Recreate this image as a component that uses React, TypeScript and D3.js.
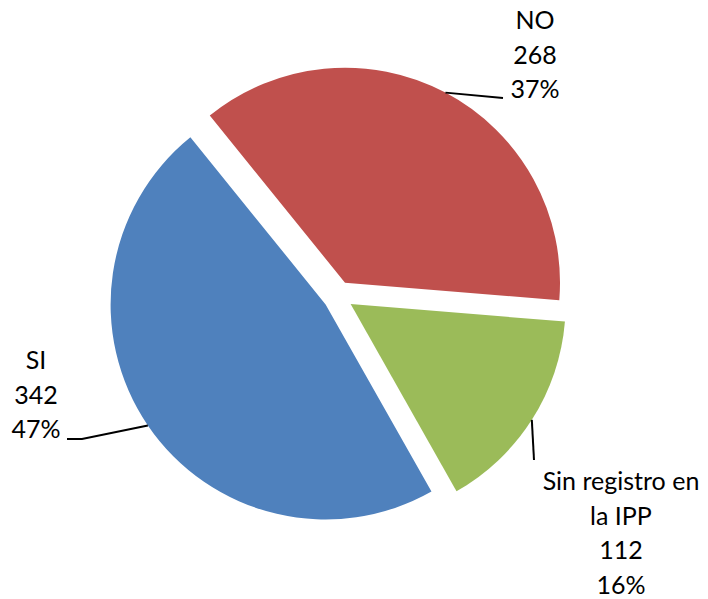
import React, { useEffect, useRef } from 'react';
import * as d3 from 'd3';

const categories = ['SI', 'NO', 'Sin registro en la IPP'];
const labelLines = [['SI'], ['NO'], ['Sin registro en', 'la IPP']];
const values = [342, 268, 112];
const colors = ['#4F81BD', '#C0504D', '#9BBB59'];

// label placement (text center x, first baseline y, leader line tail)
const labelPos = [
  { x: 36, y: 369, tail: [[82, 439], [67, 439]] },
  { x: 535, y: 29, tail: [[503, 98]] },
  { x: 621, y: 490, tail: [[534, 460]] },
];

const App = () => {
  const ref = useRef<SVGSVGElement>(null);

  useEffect(() => {
    const width = 708;
    const height = 599;
    const cx = 338;
    const cy = 296;
    const radius = 215;
    const explode = 15;
    const lineH = 34.5;

    const svg = d3.select(ref.current);
    svg.selectAll('*').remove();
    svg.attr('width', width).attr('height', height);

    const total = d3.sum(values);
    const data = categories.map((c, i) => ({ name: c, value: values[i], i }));

    const start = (150.5 * Math.PI) / 180;
    const pie = d3.pie<any>()
      .sort(null)
      .value((d) => d.value)
      .startAngle(start)
      .endAngle(start + 2 * Math.PI);

    const arcs = pie(data);
    const arc = d3.arc<any>().innerRadius(0).outerRadius(radius);

    const offset = (a: any, r: number) => {
      const mid = (a.startAngle + a.endAngle) / 2;
      return [Math.sin(mid) * r, -Math.cos(mid) * r];
    };

    const g = svg.append('g').attr('transform', `translate(${cx},${cy})`);

    g.selectAll('.slice')
      .data(arcs)
      .enter()
      .append('path')
      .attr('class', 'slice')
      .attr('transform', (d) => {
        const [dx, dy] = offset(d, explode);
        return `translate(${dx},${dy})`;
      })
      .attr('d', arc as any)
      .attr('fill', (d) => colors[d.data.i]);

    // leader lines
    arcs.forEach((d) => {
      const [ox, oy] = offset(d, explode);
      const [ex, ey] = offset(d, radius);
      const pts: [number, number][] = [[cx + ox + ex, cy + oy + ey]];
      labelPos[d.data.i].tail.forEach((p) => pts.push([p[0], p[1]]));
      svg.append('path')
        .attr('d', d3.line()(pts))
        .attr('fill', 'none')
        .attr('stroke', '#000')
        .attr('stroke-width', 2);
    });

    // labels
    arcs.forEach((d) => {
      const i = d.data.i;
      const pct = Math.round((values[i] / total) * 100) + '%';
      const lines = [...labelLines[i], String(values[i]), pct];
      const t = svg.append('text')
        .attr('x', labelPos[i].x)
        .attr('y', labelPos[i].y)
        .attr('text-anchor', 'middle')
        .attr('font-family', 'Lato, "Liberation Sans", sans-serif')
        .attr('font-size', 25)
        .attr('fill', '#000');
      lines.forEach((l, k) => {
        t.append('tspan')
          .attr('x', labelPos[i].x)
          .attr('y', labelPos[i].y + k * lineH)
          .text(l);
      });
    });
  }, []);

  return (
    <div style={{ position: 'absolute', left: 0, top: 0, background: '#fff' }}>
      <svg ref={ref} style={{ display: 'block' }} />
    </div>
  );
};

export default App;
